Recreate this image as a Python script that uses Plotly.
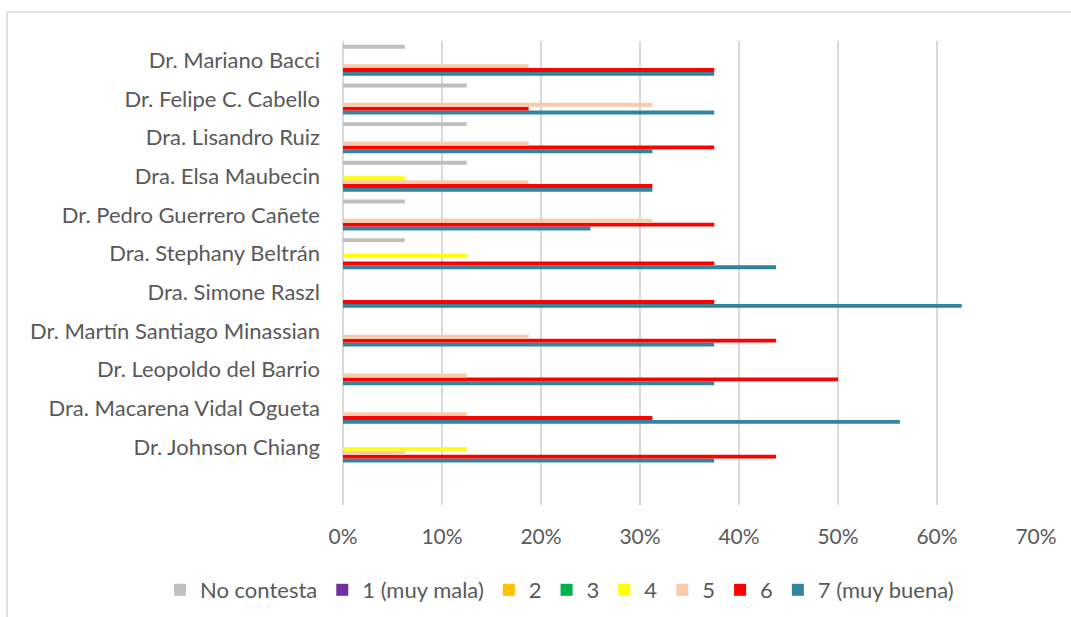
import plotly.graph_objects as go

# Categories listed bottom -> top
doctors = [
    "Dr. Johnson Chiang",
    "Dra. Macarena Vidal Ogueta",
    "Dr. Leopoldo del Barrio",
    "Dr. Martín Santiago Minassian",
    "Dra. Simone Raszl",
    "Dra. Stephany Beltrán",
    "Dr. Pedro Guerrero Cañete",
    "Dra. Elsa Maubecin",
    "Dra. Lisandro Ruiz",
    "Dr. Felipe C. Cabello",
    "Dr. Mariano Bacci",
]

series_names = ["No contesta", "1 (muy mala)", "2", "3", "4", "5", "6", "7 (muy buena)"]
series_colors = ["#BFBFBF", "#7030A0", "#FFC000", "#00B050", "#FFFF00", "#F8CBAD", "#FF0000", "#31859C"]

no_contesta = [0, 0, 0, 0, 0, 0.0625, 0.0625, 0.125, 0.125, 0.125, 0.0625]
r1 = [0, 0, 0, 0, 0, 0, 0, 0, 0, 0, 0]
r2 = [0, 0, 0, 0, 0, 0, 0, 0, 0, 0, 0]
r3 = [0, 0, 0, 0, 0, 0, 0, 0, 0, 0, 0]
r4 = [0.125, 0, 0, 0, 0, 0.125, 0, 0.0625, 0, 0, 0]
r5 = [0.0625, 0.125, 0.125, 0.1875, 0, 0, 0.3125, 0.1875, 0.1875, 0.3125, 0.1875]
r6 = [0.4375, 0.3125, 0.5, 0.4375, 0.375, 0.375, 0.375, 0.3125, 0.375, 0.1875, 0.375]
r7 = [0.375, 0.5625, 0.375, 0.375, 0.625, 0.4375, 0.25, 0.3125, 0.3125, 0.375, 0.375]

values = [no_contesta, r1, r2, r3, r4, r5, r6, r7]

x_ticks = [0, 0.1, 0.2, 0.3, 0.4, 0.5, 0.6, 0.7]
x_tick_labels = ["0%", "10%", "20%", "30%", "40%", "50%", "60%", "70%"]

FONT = "Lato, Carlito, Calibri, sans-serif"
TXT = "#595959"

fig = go.Figure()
# add in reverse so "No contesta" is at the top of each group
for i in reversed(range(len(series_names))):
    fig.add_trace(go.Bar(
        y=doctors, x=values[i], orientation="h",
        name=series_names[i], marker=dict(color=series_colors[i], line=dict(width=0)),
        legendrank=i + 1,
    ))

fig.update_layout(
    width=1071, height=617,
    margin=dict(l=343, r=35, t=41, b=112, autoexpand=False),
    paper_bgcolor="white", plot_bgcolor="white",
    barmode="group", bargap=0.2, bargroupgap=0,
    font=dict(family=FONT, size=22, color=TXT),
    legend=dict(orientation="h", xref="paper", yref="paper",
                x=(160 - 343) / 693, xanchor="left", y=(505 - 590) / 464, yanchor="middle",
                font=dict(size=22, color=TXT), itemwidth=30, traceorder="normal",
                tracegroupgap=0),
    xaxis=dict(range=[0, 0.7], tickvals=x_ticks, ticktext=x_tick_labels,
               showgrid=True, gridcolor="#D9D9D9", gridwidth=1.5,
               zeroline=True, zerolinecolor="#D9D9D9", zerolinewidth=1.5,
               showline=False, ticks="", ticklen=0, ticklabelstandoff=17,
               tickfont=dict(size=21, color=TXT)),
    yaxis=dict(type="category", categoryorder="array", categoryarray=doctors,
               range=[-1.5, 10.5], showgrid=False, zeroline=False, showline=False,
               ticks="", ticklabelstandoff=22, tickfont=dict(size=22, color=TXT)),
    shapes=[dict(type="rect", xref="paper", yref="paper",
                 x0=(7 - 343) / 693, x1=1.2, y0=-0.3, y1=(505 - 12) / 464,
                 line=dict(color="#D9D9D9", width=1.5), fillcolor="rgba(0,0,0,0)", layer="below")],
)

fig.write_html("out.html")
